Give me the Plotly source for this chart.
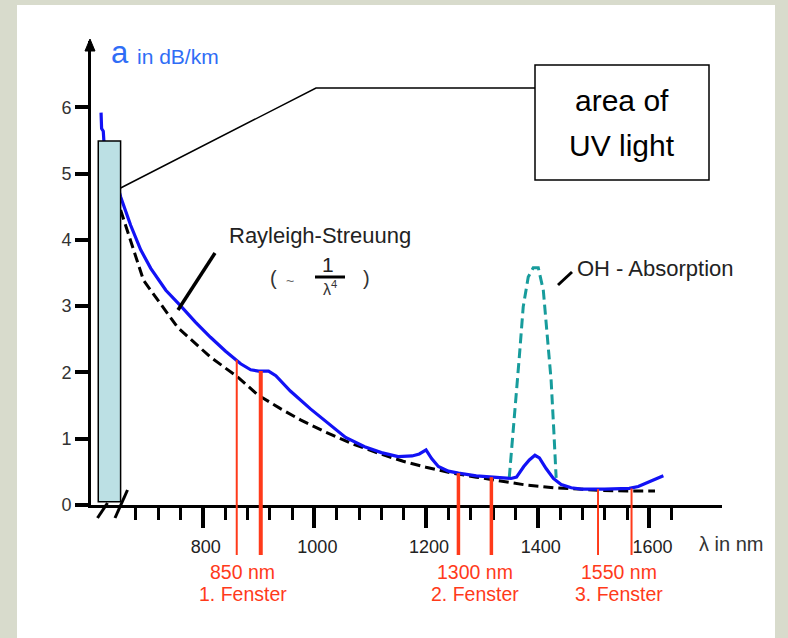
import plotly.graph_objects as go

# ---------------- data ----------------
# measured attenuation curve (blue), wavelength in nm, attenuation in dB/km
blue_nm = [618, 619, 622, 623, 640, 653, 671, 689, 707, 734, 761, 787, 814, 841,
           868, 886, 900, 918, 931, 957, 993, 1029, 1056, 1090, 1120, 1150, 1175,
           1188, 1200, 1210, 1222, 1240, 1258, 1290, 1320, 1352, 1362, 1375, 1385,
           1395, 1403, 1415, 1428, 1442, 1460, 1478, 1520, 1564, 1580, 1600, 1625]
blue_att = [5.92, 5.68, 5.64, 5.50, 5.05, 4.65, 4.22, 3.85, 3.57, 3.24, 3.00, 2.76,
            2.53, 2.32, 2.13, 2.04, 2.02, 2.02, 1.95, 1.72, 1.45, 1.20, 1.02, 0.88,
            0.79, 0.73, 0.74, 0.77, 0.83, 0.70, 0.58, 0.51, 0.48, 0.44, 0.42, 0.40,
            0.42, 0.58, 0.68, 0.75, 0.71, 0.55, 0.40, 0.31, 0.26, 0.24, 0.24, 0.25,
            0.28, 0.35, 0.44]

# Rayleigh scattering curve (black dashed)
ray_nm = [653, 694, 755, 814, 863, 899, 940, 976, 1020, 1069, 1115, 1159, 1200,
          1248, 1290, 1338, 1380, 1428, 1470, 1517, 1560, 1610]
ray_att = [4.45, 3.39, 2.68, 2.23, 1.93, 1.66, 1.45, 1.28, 1.10, 0.92, 0.78, 0.66,
           0.57, 0.48, 0.42, 0.36, 0.30, 0.26, 0.24, 0.22, 0.21, 0.21]

# OH absorption peak (teal dashed)
oh_nm = [1349, 1356, 1361, 1367, 1374, 1383, 1392, 1401, 1410, 1418, 1424, 1429, 1433]
oh_att = [0.41, 1.09, 1.58, 2.23, 2.99, 3.44, 3.58, 3.58, 3.24, 2.49, 1.88, 1.09, 0.41]

# transmission windows (red markers)
window_line_nm = [861, 904, 1258, 1317, 1508, 1568]
window_line_top = [2.19, 2.02, 0.48, 0.42, 0.24, 0.25]
window_center_nm = [872, 1287, 1545]
window_names = ["850 nm", "1300 nm", "1550 nm"]
window_labels = ["1. Fenster", "2. Fenster", "3. Fenster"]

# UV area rectangle (nm, dB/km)
uv_nm = [613, 653]
uv_att = [0.05, 5.49]

# axis ticks
x_major = [800, 1000, 1200, 1400, 1600]
x_minor = [680, 720, 760, 840, 880, 920, 960, 1040, 1080, 1120, 1160, 1240, 1280,
           1320, 1360, 1440, 1480, 1520, 1560, 1640]
y_ticks = [0, 1, 2, 3, 4, 5, 6]

# ---------------- styles ----------------
FONT = "Liberation Sans, Arial, sans-serif"
BLUE = "#1212f5"
TEAL = "#179c9c"
RED = "#ff3a1a"
TXT = "#222222"
window_line_widths = [2, 4, 3.5, 3.5, 2, 2]

W, H = 788, 638
ML, MR, MT, MB = 91, 66, 41, 133
XR = [600, 1730]
YR = [0, 7]
PW = W - ML - MR
PH = H - MT - MB


def px_x(px):  # pixel -> data x (for text/decoration placement)
    return XR[0] + (px - ML) / PW * (XR[1] - XR[0])


def px_y(py):
    return YR[0] + (H - MB - py) / PH * (YR[1] - YR[0])


def pap_x(px):
    return (px - ML) / PW


def pap_y(py):
    return (H - MB - py) / PH


def val_to_paper(v):
    return (v - YR[0]) / (YR[1] - YR[0])


fig = go.Figure()

fig.add_trace(go.Scatter(x=ray_nm, y=ray_att, mode="lines",
                         line=dict(color="black", width=3, dash="10px,5px"),
                         hoverinfo="skip"))
fig.add_trace(go.Scatter(x=oh_nm, y=oh_att, mode="lines",
                         line=dict(color=TEAL, width=3, dash="10px,5px"),
                         hoverinfo="skip"))
fig.add_trace(go.Scatter(x=blue_nm, y=blue_att, mode="lines",
                         line=dict(color=BLUE, width=3.2), hoverinfo="skip"))

shapes = []
# white slide panel
shapes.append(dict(type="rect", xref="paper", yref="paper", layer="below",
                   x0=pap_x(17), x1=pap_x(775), y0=pap_y(640), y1=pap_y(5),
                   fillcolor="white", line=dict(width=0)))

# red window lines (x on the data axis, reaching below the axis)
for xv, top, lw in zip(window_line_nm, window_line_top, window_line_widths):
    shapes.append(dict(type="line", xref="x", yref="paper", layer="above",
                       x0=xv, x1=xv, y0=pap_y(555), y1=val_to_paper(top),
                       line=dict(color=RED, width=lw)))

# axis break marks "//"
for (xa, ya, xb, yb) in [(97.5, 518, 107.5, 503), (115, 518, 127.5, 490)]:
    shapes.append(dict(type="line", xref="paper", yref="paper", layer="above",
                       x0=pap_x(xa), y0=pap_y(ya), x1=pap_x(xb), y1=pap_y(yb),
                       line=dict(color="black", width=3)))

# UV rectangle
shapes.append(dict(type="rect", xref="x", yref="y", layer="above",
                   x0=uv_nm[0], x1=uv_nm[1], y0=uv_att[0], y1=uv_att[1],
                   fillcolor="#bce0e4", line=dict(color="black", width=1.5)))
# leader line to the box
shapes.append(dict(type="path", xref="x", yref="y", layer="above",
                   path="M %f,%f L %f,%f L %f,%f" % (uv_nm[1], px_y(188), px_x(316),
                                                    px_y(88), px_x(535), px_y(88)),
                   line=dict(color="black", width=1.5)))
# box "area of UV light"
shapes.append(dict(type="rect", xref="x", yref="y", layer="above",
                   x0=px_x(535), x1=px_x(709), y0=px_y(180), y1=px_y(65),
                   fillcolor="white", line=dict(color="black", width=1.5)))
# Rayleigh pointer
shapes.append(dict(type="line", xref="x", yref="y", x0=px_x(215), y0=px_y(253),
                   x1=px_x(178), y1=px_y(310), line=dict(color="black", width=3.5)))
# fraction bar
shapes.append(dict(type="line", xref="x", yref="y", x0=px_x(315), y0=px_y(277),
                   x1=px_x(345), y1=px_y(277), line=dict(color="black", width=3)))
# OH pointer
shapes.append(dict(type="line", xref="x", yref="y", x0=px_x(558), y0=px_y(285),
                   x1=px_x(572), y1=px_y(272), line=dict(color="black", width=3)))
# arrow head on y axis
shapes.append(dict(type="path", xref="paper", yref="paper",
                   path="M %f,%f L %f,%f L %f,%f Z" % (pap_x(90), pap_y(39), pap_x(85),
                                                      pap_y(51), pap_x(95), pap_y(51)),
                   fillcolor="black", line=dict(color="black", width=1)))

ann = []


def text(x, y, s, size, color=TXT, xanchor="center", yanchor="middle",
         xref="x", yref="y"):
    ann.append(dict(x=x, y=y, xref=xref, yref=yref, text=s, showarrow=False,
                    xanchor=xanchor, yanchor=yanchor,
                    font=dict(family=FONT, size=size, color=color)))


# axis titles
text(px_x(119.5), px_y(52), "a", 31, color="#2f6df6")
text(px_x(135), px_y(56), "in dB/km", 21, color="#2f6df6", xanchor="left")
text(px_x(697), pap_y(544), "λ in nm", 20, color="#333333", xanchor="left",
     yref="paper")

# box text
text(px_x(622), px_y(100), "area of", 30, color="black")
text(px_x(622), px_y(145), "UV light", 30, color="black")

# Rayleigh
text(px_x(320), px_y(235), "Rayleigh-Streuung", 22)
text(px_x(273), px_y(278), "(", 20, color="#333333")
text(px_x(290), px_y(281), "~", 14, color="#666666")
text(px_x(328), px_y(264), "1", 21, color="#222222")
text(px_x(330), px_y(288), "λ<sup>4</sup>", 16, color="#333333")
text(px_x(366), px_y(278), ")", 20, color="#333333")

# OH
text(px_x(575), px_y(268), "OH - Absorption", 22, xanchor="left")

# windows
for xc, n, l in zip(window_center_nm, window_names, window_labels):
    text(xc, pap_y(572), n, 19.5, color=RED, yref="paper")
    text(xc, pap_y(594), l, 19.5, color=RED, yref="paper")

fig.update_layout(
    width=W, height=H,
    margin=dict(l=ML, r=MR, t=MT, b=MB, pad=0),
    paper_bgcolor="#d8dbcc",
    plot_bgcolor="rgba(0,0,0,0)",
    showlegend=False,
    shapes=shapes,
    annotations=ann,
    xaxis=dict(range=XR, showline=True, linewidth=3, linecolor="black",
               ticks="outside", tickmode="array", tickvals=x_major,
               ticktext=[str(v) for v in x_major], ticklen=20, tickwidth=3.5,
               tickcolor="black", ticklabelstandoff=3, ticklabelshift=3,
               tickfont=dict(family=FONT, size=18, color=TXT),
               showgrid=False, zeroline=False, layer="below traces",
               minor=dict(tickmode="array", tickvals=x_minor, ticks="outside",
                          ticklen=12, tickwidth=2.5, tickcolor="black",
                          showgrid=False)),
    yaxis=dict(range=YR, showline=True, linewidth=3, linecolor="black",
               ticks="outside", tickmode="array", tickvals=y_ticks, ticklen=13,
               tickwidth=3.5, tickcolor="black",
               tickfont=dict(family=FONT, size=18, color="#333333"),
               showgrid=False, zeroline=False, layer="below traces"),
)

fig.write_html("out.html")
